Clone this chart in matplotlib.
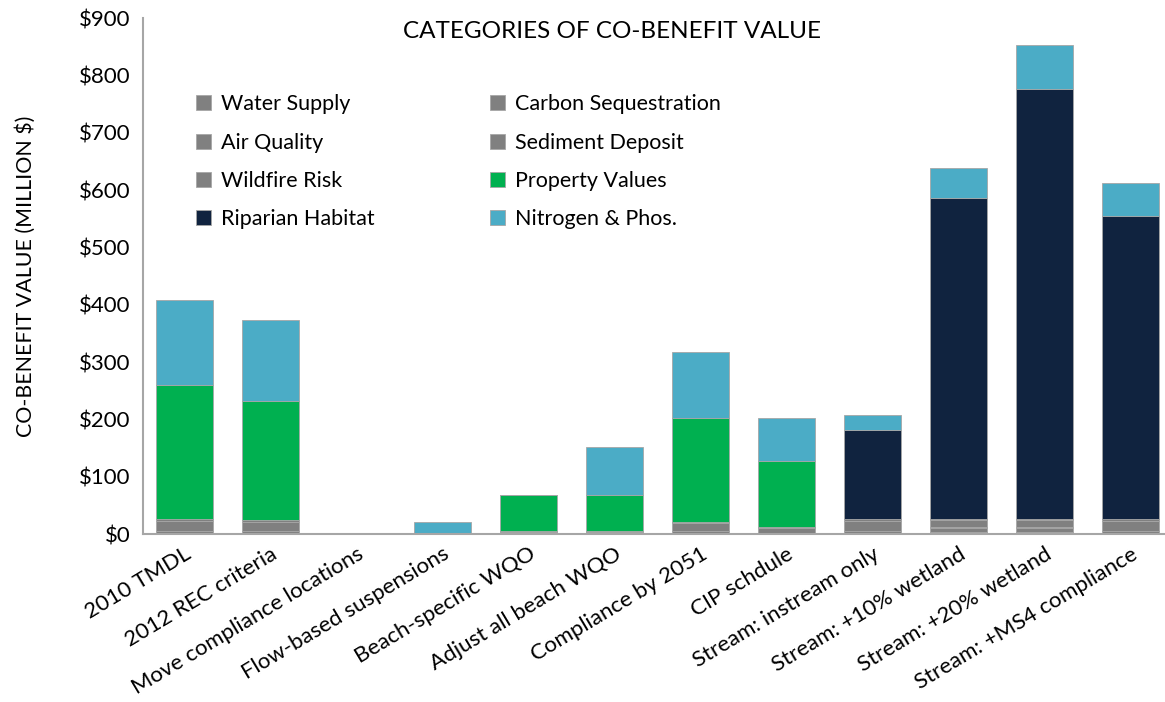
import matplotlib.pyplot as plt
import numpy as np

plt.rcParams['font.family'] = ['Lato', 'DejaVu Sans']

scenarios = ['2010 TMDL', '2012 REC criteria', 'Move compliance locations',
             'Flow-based suspensions', 'Beach-specific WQO', 'Adjust all beach WQO',
             'Compliance by 2051', 'CIP schdule', 'Stream: instream only',
             'Stream: +10% wetland', 'Stream: +20% wetland', 'Stream: +MS4 compliance']

# values in million $
water_supply = [3, 3, 0, 0, 1, 1, 3, 1, 3, 4, 4, 3]
carbon_seq = [2, 2, 0, 0, 1, 1, 2, 1, 2, 6, 6, 2]
air_quality = [1, 1, 0, 0, 1, 1, 1, 1, 1, 2, 2, 1]
sediment = [17, 15, 0, 0, 1, 1, 13, 8, 17, 12, 12, 17]
wildfire = [3, 3, 0, 1, 1, 1, 2, 1, 3, 2, 2, 3]
property_values = [234, 208, 0, 0, 63, 63, 181, 115, 0, 0, 0, 0]
riparian = [0, 0, 0, 0, 0, 0, 0, 0, 155, 560, 750, 529]
nitrogen = [149, 141, 3, 20, 0, 84, 115, 75, 27, 52, 77, 57]

series = [
    ('Water Supply', water_supply, '#808080'),
    ('Carbon Sequestration', carbon_seq, '#808080'),
    ('Air Quality', air_quality, '#808080'),
    ('Sediment Deposit', sediment, '#808080'),
    ('Wildfire Risk', wildfire, '#808080'),
    ('Property Values', property_values, '#00B050'),
    ('Riparian Habitat', riparian, '#10233F'),
    ('Nitrogen & Phos.', nitrogen, '#4BACC6'),
]

fig = plt.figure(figsize=(11.65, 7.02), dpi=100)
ax = fig.add_axes([0.123, 0.239, 0.877, 0.735])

x = np.arange(len(scenarios))
bottom = np.zeros(len(scenarios))
handles = {}
for name, vals, color in series:
    vals = np.array(vals, dtype=float)
    b = ax.bar(x, vals, 0.67, bottom=bottom, color=color, edgecolor='#A6A6A6',
               linewidth=0.6, label=name)
    handles[name] = b
    bottom += vals

ax.set_ylim(0, 900)
ax.set_xlim(-0.48, 11.4)
ax.set_yticks(np.arange(0, 901, 100))
ax.set_yticklabels([f'${v}' for v in range(0, 901, 100)], fontsize=16)
ax.set_xticks(x)
ax.set_xticklabels(scenarios, rotation=31, ha='right', rotation_mode='anchor', fontsize=16)
ax.tick_params(axis='x', length=0, pad=7)
ax.tick_params(axis='y', length=0, pad=9)
ax.set_ylabel('CO-BENEFIT VALUE (MILLION $)', fontsize=15.4)
ax.yaxis.set_label_coords(-0.105, 0.5)

for s in ['top', 'right']:
    ax.spines[s].set_visible(False)
for s in ['left', 'bottom']:
    ax.spines[s].set_color('#A6A6A6')
    ax.spines[s].set_linewidth(1.5)

ax.text(0.459, 0.995, 'CATEGORIES OF CO-BENEFIT VALUE', transform=ax.transAxes,
        ha='center', va='top', fontsize=17.5)

order = ['Water Supply', 'Air Quality', 'Wildfire Risk', 'Riparian Habitat',
         'Carbon Sequestration', 'Sediment Deposit', 'Property Values', 'Nitrogen & Phos.']
leg = ax.legend([handles[n] for n in order], order, ncol=2, loc='upper left',
                bbox_to_anchor=(0.033, 0.89), frameon=False, fontsize=15.5,
                handlelength=0.7, handleheight=0.7, handletextpad=0.45,
                columnspacing=5.35, labelspacing=0.85)

fig.savefig('out.png', dpi=100)
